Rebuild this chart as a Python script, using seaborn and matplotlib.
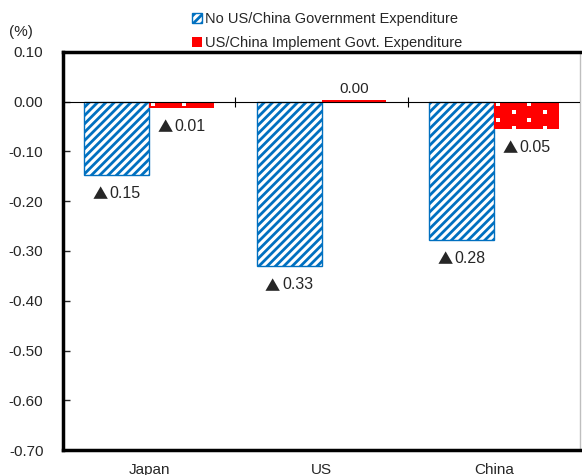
import matplotlib
matplotlib.use('Agg')
import matplotlib.pyplot as plt
import matplotlib.patches as mpatches
from matplotlib.ticker import FormatStrFormatter
import seaborn as sns
import pandas as pd
import numpy as np

countries = ['Japan', 'US', 'China']
series_names = ['No US/China Government Expenditure', 'US/China Implement Govt. Expenditure']
no_govt = [-0.147, -0.33, -0.277]
with_govt = [-0.012, 0.003, -0.054]
yticks = [0.10, 0.00, -0.10, -0.20, -0.30, -0.40, -0.50, -0.60, -0.70]

blue = '#0070C0'
red = '#FF0000'

sns.set_style('white')
plt.rcParams['font.family'] = ['Liberation Sans', 'DejaVu Sans']
plt.rcParams['axes.unicode_minus'] = False
plt.rcParams['hatch.linewidth'] = 2.0

df = pd.DataFrame({
    'country': countries * 2,
    'scenario': [series_names[0]] * 3 + [series_names[1]] * 3,
    'value': no_govt + with_govt,
})

fig = plt.figure(figsize=(5.82, 4.75), dpi=100)
ax = fig.add_axes([0.108, 0.0526, 0.889, 0.838])

sns.barplot(data=df, x='country', y='value', hue='scenario', order=countries,
            hue_order=series_names, width=0.75, legend=False, ax=ax, errorbar=None)

ax.set_ylim(-0.70, 0.10)
ax.set_xlim(-0.5, 2.5)

for bar in ax.containers[0]:
    bar.set_facecolor('white')
    bar.set_edgecolor(blue)
    bar.set_hatch('////')
    bar.set_linewidth(1.0)
for bar in ax.containers[1]:
    bar.set_facecolor(red)
    bar.set_edgecolor(red)
    bar.set_linewidth(0)

# white dot texture on the red bars (staggered grid in pixels, clipped to each bar)
inv = ax.transData.inverted()
for bar in ax.containers[1]:
    bb = bar.get_window_extent()
    if bb.height < 3:
        continue
    pts = []
    row = 0
    yy = bb.y1 - 2
    while yy > bb.y0 - 8:
        xx = bb.x0 + 4 + (15.5 if row % 2 else 0)
        while xx < bb.x1:
            pts.append((xx, yy))
            xx += 31
        yy -= 8
        row += 1
    pts = inv.transform(np.array(pts))
    sc = ax.scatter(pts[:, 0], pts[:, 1], s=6, marker='s', color='white', linewidths=0, zorder=3)
    sc.set_clip_path(bar)

# value labels: triangle from a CJK font, digits in the sans font
tri_font = ['Noto Sans CJK JP', 'DejaVu Sans']
for cont, vals in zip(ax.containers, [no_govt, with_govt]):
    for bar, v in zip(cont, vals):
        xc = bar.get_x() + bar.get_width() / 2
        if round(v, 2) == 0:
            ax.annotate('0.00', (xc, v), xytext=(0, 3), textcoords='offset points',
                        ha='center', va='bottom', fontsize=11)
        else:
            ax.annotate('\u25b2', (xc, v), xytext=(-6.5, -8.5), textcoords='offset points',
                        ha='right', va='top', fontsize=11, family=tri_font)
            ax.annotate(f'{abs(v):.2f}', (xc, v), xytext=(-5, -8), textcoords='offset points',
                        ha='left', va='top', fontsize=11.5)

ax.set_yticks(yticks)
ax.yaxis.set_major_formatter(FormatStrFormatter('%.2f'))
ax.set_xlabel('')
ax.set_ylabel('')
ax.tick_params(axis='y', direction='in', length=5, width=1, left=True, labelsize=11, pad=14)
ax.tick_params(axis='x', length=0, pad=9, labelsize=11)

ax.axhline(0, color='black', lw=0.8, zorder=4)
ax.vlines([0.5, 1.5], -0.01, 0.01, color='black', lw=0.8, zorder=4)

for s in ['left', 'top', 'bottom']:
    ax.spines[s].set_color('black')
    ax.spines[s].set_linewidth(2.5)
ax.spines['right'].set_color('#bfbfbf')
ax.spines['right'].set_linewidth(1)

handles = [
    mpatches.Patch(facecolor='white', edgecolor=blue, hatch='////', lw=1, label=series_names[0]),
    mpatches.Patch(facecolor=red, edgecolor='white', hatch='.', lw=0, label=series_names[1]),
]
fig.legend(handles=handles, loc='upper center', bbox_to_anchor=(0.562, 0.987), frameon=False,
           handlelength=0.7, handleheight=0.7, handletextpad=0.15, labelspacing=0.7,
           fontsize=10.5, borderaxespad=0)

fig.text(0.015, 0.925, '(%)', fontsize=11)

fig.savefig('out.png', dpi=100)
